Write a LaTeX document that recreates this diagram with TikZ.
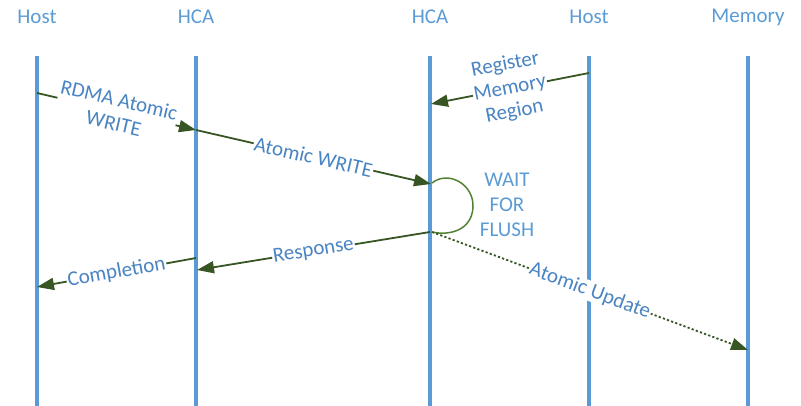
\documentclass[tikz,border=0pt]{standalone}
\usepackage{fontspec}
\setmainfont{Carlito}
\usetikzlibrary{arrows.meta}
\definecolor{lifeblue}{HTML}{5B9BD5}
\definecolor{labelblue}{HTML}{4A84C2}
\definecolor{arrowgreen}{HTML}{375623}
\definecolor{loopgreen}{HTML}{548235}
\tikzset{
  lifeline/.style={line width=3.5pt, lifeblue},
  header/.style={text=lifeblue, font=\fontsize{21}{25}\selectfont, inner sep=0pt},
  msg/.style={line width=1.8pt, arrowgreen, -{Triangle[length=17pt,width=12pt]}},
  msglabel/.style={text=labelblue, font=\fontsize{21}{24}\selectfont, fill=white, inner sep=1pt, align=center, sloped},
}
\begin{document}
\begin{tikzpicture}[x=1pt,y=-1pt]
\useasboundingbox (0,0) rectangle (801,406);
% headers
\node[header] (h1) at (37,17) {Host};
\node[header] (h2) at (196,17) {HCA};
\node[header] (h3) at (430,17) {HCA};
\node[header] (h4) at (589,17) {Host};
\node[header] (h5) at (748,17) {Memory};
% lifelines
\foreach \i/\x in {1/37,2/196,3/430,4/589,5/748}{
  \coordinate (t\i) at (\x,56);
  \coordinate (b\i) at (\x,406);
  \draw[lifeline] (t\i) -- (b\i);
}
% message points
\coordinate (a1) at (37,93);
\coordinate (a2) at (196,130);
\coordinate (a3) at (431,184);
\coordinate (r1) at (589,73);
\coordinate (r2) at (431,104);
\coordinate (l1) at (432,183);
\coordinate (l2) at (432,232);
\coordinate (p1) at (430,232);
\coordinate (p2) at (197,270);
\coordinate (c1) at (196,258);
\coordinate (c2) at (37,287);
\coordinate (u2) at (748,350);
% messages
\draw[msg] (a1) -- node[msglabel, pos=0.5] {RDMA Atomic\\WRITE} (a2);
\draw[msg] (a2) -- node[msglabel, pos=0.5] {Atomic WRITE} (a3);
\draw[msg] (r1) -- node[msglabel, pos=0.5] {Register\\Memory\\Region} (r2);
\draw[line width=1.5pt, loopgreen] (l1) .. controls (448,170) and (474,184) .. (473,207) .. controls (472,230) and (450,236) .. (l2);
\node[text=lifeblue, font=\fontsize{21}{25}\selectfont, align=center, inner sep=0pt] (wff) at (507,205) {WAIT\\FOR\\FLUSH};
\draw[msg] (p1) -- node[msglabel, pos=0.5] {Response} (p2);
\draw[msg] (c1) -- node[msglabel, pos=0.5] {Completion} (c2);
\draw[msg, dash pattern=on 2.2pt off 2.2pt] (l2) -- node[msglabel, pos=0.5] {Atomic Update} (u2);
\end{tikzpicture}
\end{document}
